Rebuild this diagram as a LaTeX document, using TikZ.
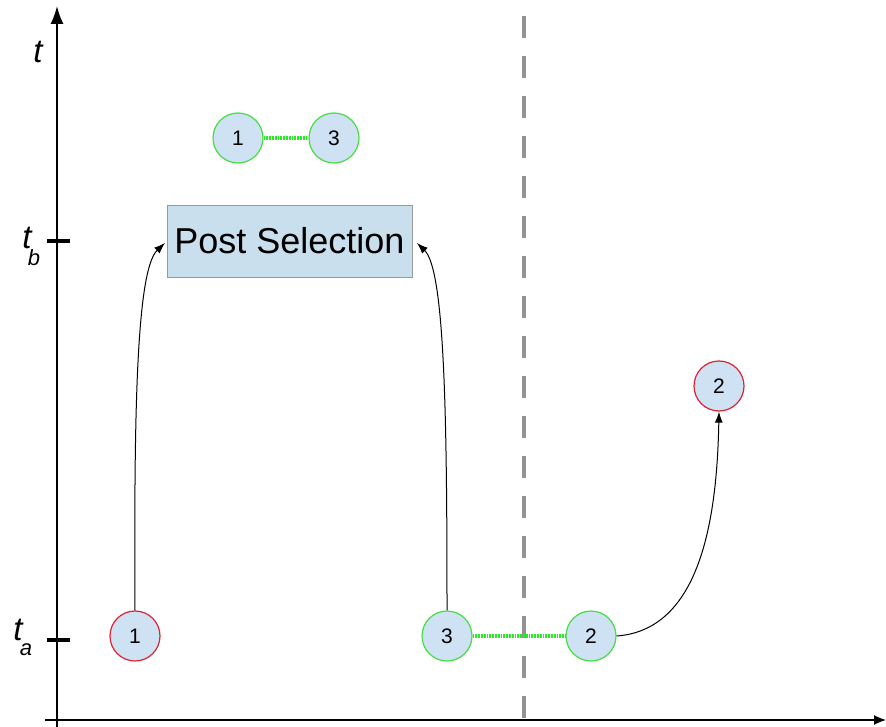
\documentclass[tikz,border=0pt]{standalone}
\usepackage{fontspec}
\setmainfont{Liberation Sans}
\usetikzlibrary{arrows.meta}
\definecolor{cfill}{HTML}{CFE2F3}
\definecolor{gborder}{HTML}{44DD44}
\definecolor{rborder}{HTML}{DD2233}
\definecolor{gdot}{HTML}{22EE22}
\definecolor{boxfill}{HTML}{C9DFEE}
\tikzset{
  ev/.style={circle,fill=cfill,draw,line width=1.2pt,minimum size=50pt,inner sep=0pt,font=\fontsize{21}{21}\selectfont},
  gev/.style={ev,draw=gborder},
  rev/.style={ev,draw=rborder},
  link/.style={gdot,line width=4pt,dash pattern=on 1.8pt off 1pt},
  flow/.style={black,line width=1pt,-{Latex[length=11pt,width=8pt]}},
  axis/.style={black,line width=1.8pt,-{Latex[length=18pt,width=13pt]}},
  tick/.style={black,line width=4pt},
  lab/.style={font=\fontsize{33}{33}\selectfont\itshape,inner sep=0pt}
}
\begin{document}
\begin{tikzpicture}[x=1pt,y=-1pt]
\useasboundingbox (0,0) rectangle (886,727);
% axes
\coordinate (o1) at (57,727);
\coordinate (o2) at (57,6);
\draw[axis] (o1) -- (o2);
\coordinate (h1) at (45,720);
\coordinate (h2) at (886,720);
\draw[black,line width=1.3pt,-{Latex[length=12pt,width=10pt]}] (h1) -- (h2);
% ticks
\coordinate (tb1) at (47,241); \coordinate (tb2) at (70,241);
\draw[tick] (tb1) -- (tb2);
\coordinate (ta1) at (47,640); \coordinate (ta2) at (70,640);
\draw[tick] (ta1) -- (ta2);
% labels
\node[lab] (lt) at (38,52) {t};
\node[lab] (ltb) at (27,238) {t};
\node[font=\fontsize{22}{22}\selectfont\itshape,inner sep=0pt] (lb) at (34,258) {b};
\node[lab] (lta) at (18,630) {t};
\node[font=\fontsize{22}{22}\selectfont\itshape,inner sep=0pt] (la) at (26,650) {a};
% dashed line
\coordinate (d1) at (524,16);
\coordinate (d2) at (524,727);
\draw[gray!85,line width=4pt,dash pattern=on 22pt off 18pt] (d1) -- (d2);
% box
\node[draw=gray!80,fill=boxfill,line width=0.8pt,minimum width=245pt,minimum height=72pt,inner sep=0pt,font=\fontsize{36}{36}\selectfont] (ps) at (289.5,241) {Post Selection};
% events
\node[gev] (t1) at (238,138) {1};
\node[gev] (t3) at (334,138) {3};
\node[rev] (b1) at (135,636) {1};
\node[gev] (b3) at (447,636) {3};
\node[gev] (b2) at (591,636) {2};
\node[rev] (r2) at (719,386) {2};
% links
\draw[link] (t1) -- (t3);
\draw[link] (b3) -- (b2);
% flows
\coordinate (a1) at (165,243);
\coordinate (a2) at (417,243);
\draw[flow] (b1.north) .. controls (134,420) and (136,270) .. (a1);
\draw[flow] (b3.north) .. controls (447,420) and (445,270) .. (a2);
\draw[flow] (b2.east) .. controls (700,630) and (717,520) .. (r2.south);
\end{tikzpicture}
\end{document}
